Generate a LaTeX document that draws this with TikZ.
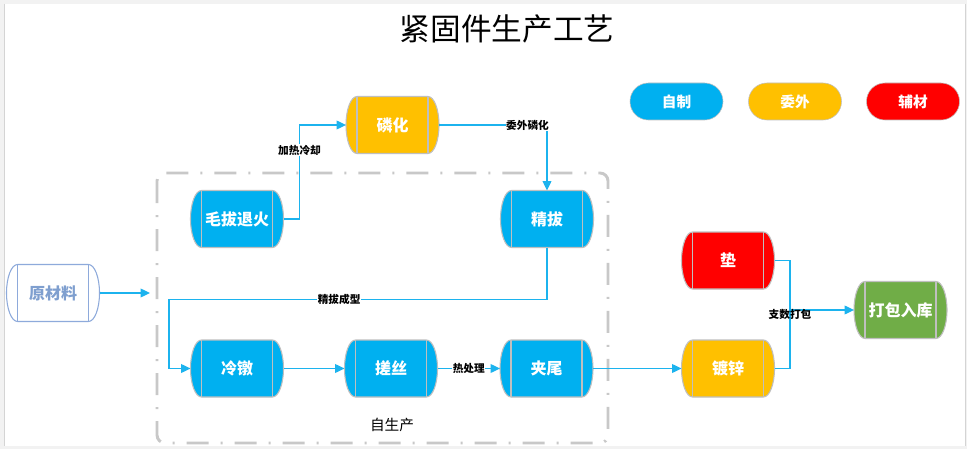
\documentclass[tikz,border=0pt]{standalone}
\usepackage{fontspec}
\setmainfont{Noto Sans CJK SC}
\usepackage[rgb]{xcolor}
\usepackage{tikz}
\usetikzlibrary{arrows.meta,calc}

\definecolor{selfblue}{HTML}{00B0F0}
\definecolor{outorange}{HTML}{FFC000}
\definecolor{auxred}{HTML}{FF0000}
\definecolor{packgreen}{HTML}{70AD47}
\definecolor{flowblue}{HTML}{1CB3EE}
\definecolor{rimgray}{HTML}{BFBFBF}
\definecolor{rawblue}{HTML}{7F9FCF}
\definecolor{rawrim}{HTML}{8EAADB}
\definecolor{boxgray}{HTML}{C8C8C8}
\definecolor{sheetgray}{HTML}{F2F2F2}
\definecolor{sheetline}{HTML}{D4D4D4}

% drum shaped step: name, x, y, fill, rim, text colour, text
\newcommand{\drum}[7]{%
\filldraw[fill=#4, draw=#5, line width=0.8pt] ($(#2,#3)+(-35.5,-28.5)$) -- ++(71,0)
  arc[start angle=-90, end angle=90, x radius=11, y radius=28.5] -- ++(-71,0)
  arc[start angle=90, end angle=270, x radius=11, y radius=28.5] -- cycle;
\draw[#5, line width=0.8pt] ($(#2,#3)+(-35.5,-28.5)$) -- ++(0,57);
\draw[#5, line width=0.8pt] ($(#2,#3)+(35.5,-28.5)$) -- ++(0,57);
\path (#2,#3) node[steptext, text=#6] (#1) {#7};
}

\begin{document}
\begin{tikzpicture}[x=0.75pt, y=-0.75pt,
  steptext/.style={minimum width=69.75pt, minimum height=42.75pt, outer sep=0pt, inner sep=0pt, font=\fontsize{12}{14}\selectfont\bfseries},
  pill/.style={draw=rimgray, rounded corners=13.8pt, minimum width=69.75pt, minimum height=27.75pt, text=white, font=\fontsize{11}{13}\selectfont\bfseries},
  flowline/.style={flowblue, line width=1pt},
  flow/.style={flowline, -{Triangle[length=7pt, width=6.5pt]}},
  lbl/.style={fill=white, text=black, inner sep=0.5pt, font=\fontsize{8}{9}\selectfont\bfseries}]

\useasboundingbox (0,0) rectangle (967,449);

% Sheet
\fill[sheetgray] (0,0) rectangle (967,449);
\fill[white] (4.5,4) rectangle (965,446);
\draw[sheetline] (4.5,4) -- (4.5,446);
\draw[sheetline] (965,4) -- (965,446);

% Title
\path 
(507,29) node[font=\fontsize{23}{26}\selectfont] (title) {紧固件生产工艺};

% Legend
\path (676.5,101.5) node[pill, fill=selfblue] (kself) {自制};
\path (795,101.5) node[pill, fill=outorange] (kout) {委外};
\path (913,101.5) node[pill, fill=auxred] (kaux) {辅材};

% Own production area
\draw[boxgray, line width=2.2pt, rounded corners=6pt, dash pattern=on 16.5pt off 9pt on 1.5pt off 9pt] (157,173) rectangle (608,443);
\path 
(392,425) node[font=\fontsize{11}{13}\selectfont] (zsc) {自生产};

% Steps
\drum{raw}{53}{293}{white}{rawrim}{rawblue}{原材料}
\drum{mba}{237}{219}{selfblue}{rimgray}{white}{毛拔退火}
\drum{lh}{392.5}{125}{outorange}{rimgray}{white}{磷化}
\drum{jb}{547}{219}{selfblue}{rimgray}{white}{精拔}
\drum{ld}{237}{368.5}{selfblue}{rimgray}{white}{冷镦}
\drum{cs}{391}{368.5}{selfblue}{rimgray}{white}{搓丝}
\drum{jw}{546.5}{368.5}{selfblue}{rimgray}{white}{夹尾}
\drum{dian}{728}{260.5}{auxred}{rimgray}{white}{垫}
\drum{dx}{728}{368.5}{outorange}{rimgray}{white}{镀锌}
\drum{dbrk}{900.5}{310}{packgreen}{rimgray}{white}{打包入库}

% Flow
\coordinate (entry) at (150,293);
\coordinate (pk) at (790,310);

\draw[flow] (raw.east) -- (entry);
\draw[flow] (mba.east) -- ++(16,0) |- (lh.west) node[lbl, pos=0.367] {加热冷却};
\draw[flow] (lh.east) -| (jb.north) node[lbl, pos=0.41] {委外磷化};
\draw[flow] (jb.south) -- ++(0,52) -- ++(-378,0) node[lbl, pos=0.55] {精拔成型} |- (ld.west);
\draw[flow] (ld.east) -- (cs.west);
\draw[flow] (cs.east) -- (jw.west) node[lbl, midway] {热处理};
\draw[flow] (jw.east) -- (dx.west);

\draw[flowline] (dian.east) -| (pk);
\draw[flowline] (dx.east) -| (pk);
\draw[flow] (pk) -- (dbrk.west);
\path (pk) ++(0,4) node[lbl, fill=none] (zsdb) {支数打包};

\end{tikzpicture}
\end{document}
